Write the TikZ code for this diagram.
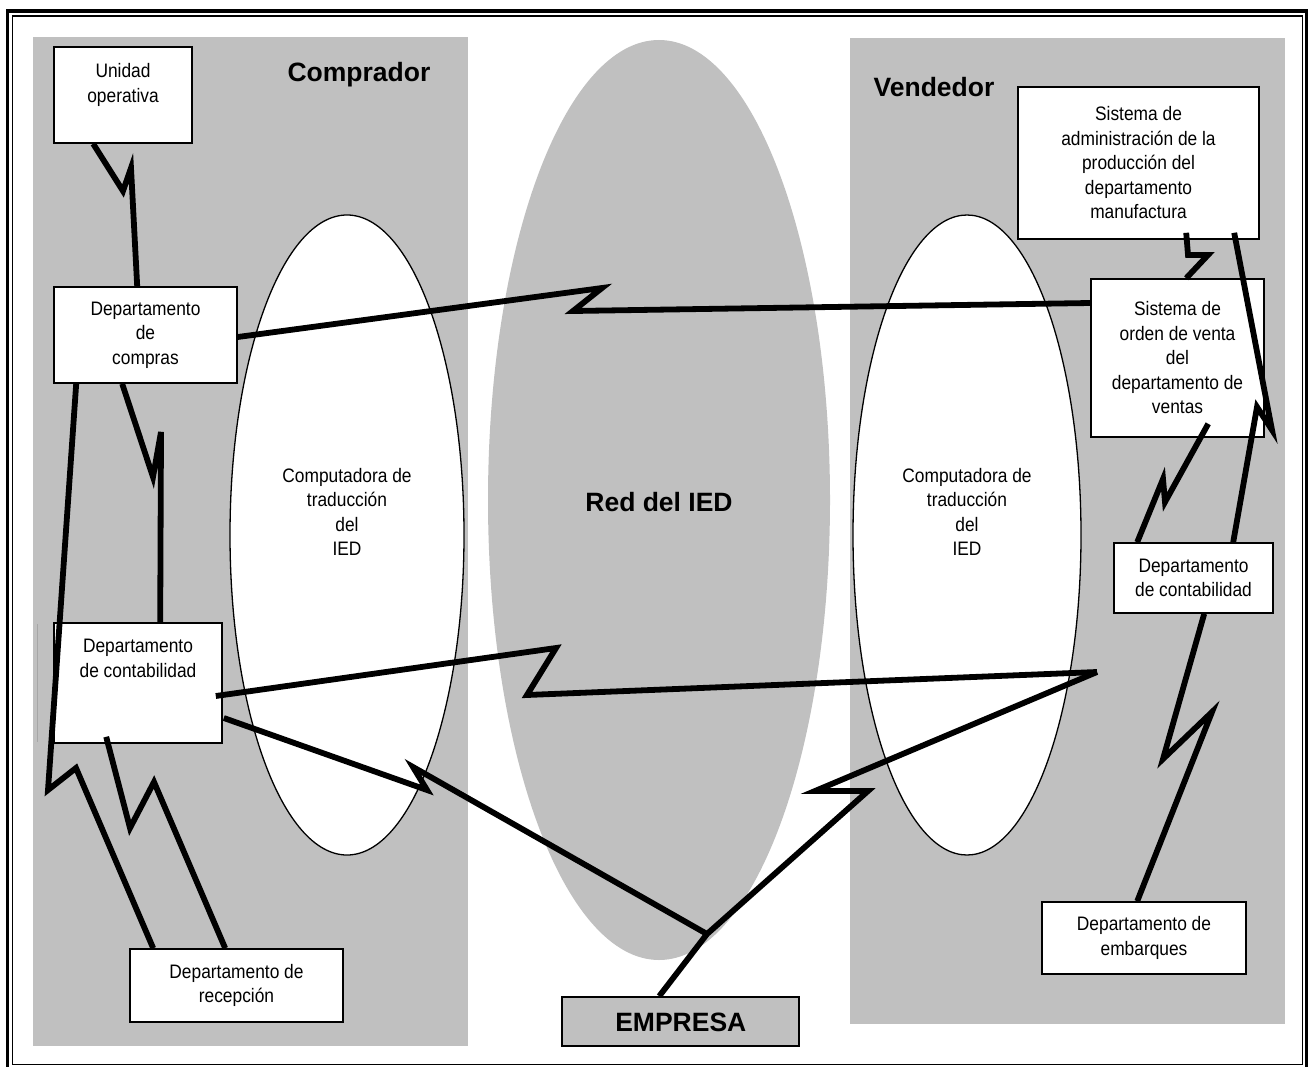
\documentclass[tikz,border=0pt]{standalone}
\usepackage{fontspec}
\setmainfont{Liberation Sans}
\newfontfamily\narrowsans[FakeStretch=0.89]{Liberation Sans}
\usetikzlibrary{calc}
\definecolor{panelgray}{RGB}{192,192,192}
\begin{document}
\begin{tikzpicture}[x=1pt,y=-1pt,
  box/.style={draw=black,line width=1.6pt,fill=white,inner sep=0pt,align=center,
    font=\narrowsans\fontsize{19.5}{24.5}\selectfont},
  plain/.style={inner sep=0pt,align=center,font=\narrowsans\fontsize{19.5}{24.5}\selectfont},
  title/.style={inner sep=0pt,anchor=base,font=\bfseries\fontsize{26.5}{30}\selectfont},
  wire/.style={line width=5.8pt,line join=miter,black},
  rim/.style={draw=black,line width=1.3pt,fill=white}]
\useasboundingbox (0,0) rectangle (1308,1067);

% double frame
\draw[line width=3.3pt] (7.7,11) rectangle (1307,1069);
\draw[line width=1.5pt] (12.5,16) rectangle (1302.5,1064.5);

% buyer and seller panels
\fill[panelgray] (33,37) rectangle (468,1046);
\fill[panelgray] (850,38) rectangle (1285,1024);

% EDI network
\fill[panelgray] (659,500) ellipse [x radius=171pt, y radius=460pt];

% translation computers
\draw[rim] (347,535) ellipse [x radius=117pt, y radius=320pt];
\draw[rim] (967,535) ellipse [x radius=114pt, y radius=320pt];

% titles
\node[title] (comprador) at (359,82) {Comprador};
\node[title] (vendedor) at (934,97) {Vendedor};
\node[title] (red) at (659,511) {Red del IED};
\node[plain] (tradL) at (347,512) {Computadora de\\traducción\\del\\IED};
\node[plain] (tradR) at (967,512) {Computadora de\\traducción\\del\\IED};

% buyer side
\node[box,minimum width=138pt,minimum height=96pt] (uo) at (123,95) {Unidad\\operativa\\~};
\node[box,minimum width=183pt,minimum height=96pt] (compras) at (145.5,335) {Departamento\\de\\compras};
\node[box,minimum width=168pt,minimum height=120pt] (contL) at (138,683) {Departamento\\de contabilidad\\~\\~};
\draw[gray!70,line width=0.8pt] ($(contL.north west)+(-16,2)$) -- ($(contL.south west)+(-16,-2)$);
\node[box,minimum width=213pt,minimum height=73pt] (recep) at (236.5,985.5) {Departamento de\\recepción};

% seller side
\node[box,minimum width=241pt,minimum height=152pt] (admin) at (1138.5,163) {Sistema de\\administración de la\\producción del\\departamento\\manufactura};
\node[box,minimum width=173pt,minimum height=158pt] (orden) at (1177.5,358) {Sistema de\\orden de venta\\del\\departamento de\\ventas};
\node[box,minimum width=159pt,minimum height=70pt] (contR) at (1193.5,578) {Departamento\\de contabilidad};
\node[box,minimum width=204pt,minimum height=72pt] (embar) at (1144,938) {Departamento de\\embarques};

% company
\node[draw=black,line width=1.6pt,fill=panelgray,inner sep=0pt,
  minimum width=237pt,minimum height=49pt] (empresa) at (680.5,1021.5) {};
\node[title] (empresaTxt) at (680.8,1031.5) {EMPRESA};

% meeting points of the links through the network
\coordinate (hub) at (1097,672);
\coordinate (junc) at (707,934);

% buyer links
\draw[wire] ($(uo.south west)+(40,0)$) -- (123,191) -- (131,168) -- ($(compras.north west)+(84,0)$);
\draw[wire] ($(compras.south west)+(69,0)$) -- (153,477) -- (161,432) -- ($(contL.north west)+(107,0)$);
\draw[wire] ($(compras.south west)+(23,0)$) -- (48,790) -- (76,768) -- ($(recep.north west)+(24,0)$);
\draw[wire] ($(contL.south west)+(53,-7)$) -- (130,828) -- (154,782) -- ($(recep.north west)+(96,0)$);

% links across the network
\draw[wire] ($(compras.east)+(0,2)$) -- (602,288) -- (573,311) -- ($(orden.west)+(0,-55)$);
\draw[wire] ($(contL.east)+(-7,13)$) -- (556,648) -- (527,695) -- (hub);
\draw[wire] ($(contL.east)+(1,35)$) -- (427,790) -- (413,767) -- (junc);
\draw[wire] ($(empresa.north west)+(98,0)$) -- (junc) -- (868,791) -- (815,791) -- (hub);

% seller links
\draw[wire] ($(admin.south west)+(169,-7)$) -- (1188,255) -- (1208,255) -- ($(orden.north west)+(96,0)$);
\draw[wire] ($(admin.south west)+(217,-7)$) -- (1272,430) -- (1257,407) -- ($(contR.north west)+(120,0)$);
\draw[wire] ($(orden.south west)+(118,-14)$) -- (1165,502) -- (1163,479) -- ($(contR.north west)+(24,0)$);
\draw[wire] ($(contR.south west)+(91,0)$) -- (1163,759) -- (1212,712) -- ($(embar.north west)+(96,0)$);
\end{tikzpicture}
\end{document}
